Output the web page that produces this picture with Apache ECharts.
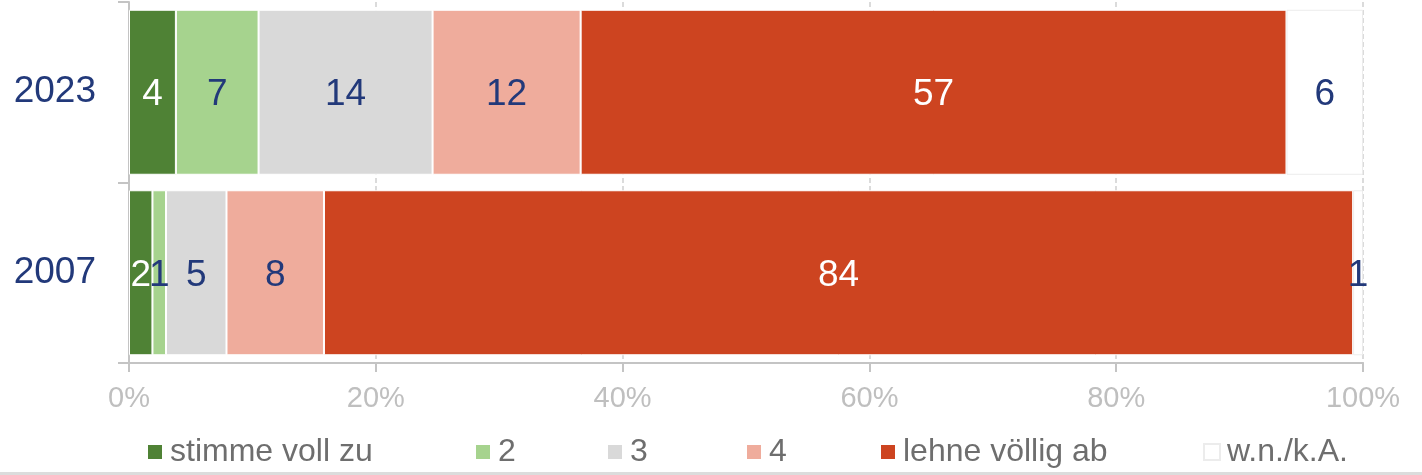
<!DOCTYPE html>
<html>
<head>
<meta charset="utf-8">
<script src="https://cdn.jsdelivr.net/npm/echarts@6/dist/echarts.min.js"></script>
<style>
  html, body { margin: 0; padding: 0; background: #fff; }
  #chart { width: 1422px; height: 475px; }
</style>
</head>
<body>
<div id="chart"></div>
<script>
// Kategorien (oben nach unten)
var years = ['2023', '2007'];
var seriesNames = ['stimme voll zu', '2', '3', '4', 'lehne völlig ab', 'w.n./k.A.'];
var colors = ['#4f8235', '#a6d38e', '#d9d9d9', '#efac9c', '#cd4420', '#ffffff'];
// Anteile in %
var values2023 = [3.8, 6.7, 14.1, 12.0, 57.2, 6.2];
var values2007 = [1.9, 1.1, 4.9, 7.9, 83.4, 0.8];
// angezeigte (gerundete) Werte
var labels2023 = [4, 7, 14, 12, 57, 6];
var labels2007 = [2, 1, 5, 8, 84, 1];
var xTicks = [0, 20, 40, 60, 80, 100];
var legendLeft = [146, 474, 606, 745, 879, 1203];

var navy = '#22397a';
var font = '"Liberation Sans", Arial, sans-serif';

var chart = echarts.init(document.getElementById('chart'));

var series = [];
var legends = [];
seriesNames.forEach(function (name, i) {
    var whiteText = (i === 0 || i === 4);
    series.push({
        name: name,
        type: 'bar',
        stack: 'total',
        barWidth: 165,
        data: [values2023[i], values2007[i]],
        itemStyle: {
            color: colors[i],
            borderColor: i === 5 ? '#ececec' : '#ffffff',
            borderWidth: 1
        },
        label: {
            show: true,
            position: 'inside',
            offset: [0, 3],
            fontFamily: font,
            fontSize: 37,
            color: whiteText ? '#ffffff' : navy,
            formatter: function (p) {
                return p.dataIndex === 0 ? labels2023[i] : labels2007[i];
            }
        },
        emphasis: { disabled: true }
    });
    legends.push({
        data: [name],
        left: legendLeft[i],
        top: 436,
        padding: 0,
        itemWidth: 16,
        itemHeight: 16,
        icon: 'rect',
        selectedMode: false,
        textStyle: {
            fontFamily: font,
            fontSize: 32,
            color: '#6e6e6e',
            padding: [0, 0, 0, 2]
        }
    });
});

var option = {
    animation: false,
    backgroundColor: '#ffffff',
    grid: { left: 129, right: 59, top: 2, bottom: 112 },
    xAxis: {
        type: 'value',
        min: 0,
        max: 100,
        interval: 20,
        axisLine: { show: true, lineStyle: { color: '#c4c4c4', width: 2 } },
        axisTick: { show: true, length: 9, lineStyle: { color: '#c4c4c4', width: 2 } },
        axisLabel: {
            margin: 21,
            fontFamily: font,
            fontSize: 29,
            color: '#bfbfbf',
            formatter: function (v) {
                return xTicks.indexOf(v) >= 0 ? v + '%' : '';
            }
        },
        splitLine: { show: true, lineStyle: { color: '#cfcfcf', type: [5, 3], width: 1.5 } }
    },
    yAxis: {
        type: 'category',
        data: years,
        inverse: true,
        axisLine: { show: true, lineStyle: { color: '#c4c4c4', width: 2 } },
        axisTick: { show: true, length: 11, lineStyle: { color: '#c4c4c4', width: 2 } },
        axisLabel: {
            margin: 33,
            lineHeight: 37,
            padding: [12, 0, 0, 0],
            fontFamily: font,
            fontSize: 37,
            color: navy
        }
    },
    legend: legends,
    graphic: [{
        type: 'rect',
        shape: { x: 0, y: 472, width: 1422, height: 3 },
        style: { fill: '#dcdcdc' },
        silent: true
    }],
    series: series
};

chart.setOption(option);
window.addEventListener('resize', function () {
    chart.resize();
});
</script>
</body>
</html>
